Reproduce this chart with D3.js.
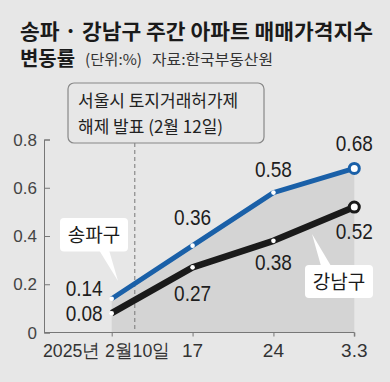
<!DOCTYPE html>
<html>
<head>
<meta charset="utf-8">
<script src="https://cdn.jsdelivr.net/npm/d3@7.9.0/dist/d3.min.js"></script>
<style>
  body { margin: 0; background: #e7e7e7; }
  svg { display: block; }
  .num { font-family: "Liberation Sans", Arial, sans-serif; }
  .kr { font-family: "Noto Sans CJK KR", "Noto Sans", sans-serif; }
</style>
</head>
<body>
<svg id="chart" width="390" height="382"></svg>
<script>
// data
const dates = ['2025년 2월10일', '17', '24', '3.3'];
const songpa = [0.14, 0.36, 0.58, 0.68];
const gangnam = [0.08, 0.27, 0.38, 0.52];
const yTicks = [0, 0.2, 0.4, 0.6, 0.8];

// label offsets (layout only)
const songpaLab = [[-9, -3, 'end'], [0, -21, 'middle'], [0, -16, 'middle'], [0, -17, 'middle']];
const gangnamLab = [[-9, 8, 'end'], [0, 34, 'middle'], [0, 29, 'middle'], [0, 32, 'middle']];

const blue = '#1a60a8';
const dark = '#1a1a1a';

const svg = d3.select('#chart');

const x = d3.scalePoint().domain(dates).range([111.7, 354.3]);
const y = d3.scaleLinear().domain([0, 0.8]).range([332.5, 139.5]);
const x0 = 44;

// title
svg.append('text').attr('class', 'kr')
    .attr('x', 20).attr('y', 39)
    .attr('font-size', 21).attr('font-weight', 'bold').attr('fill', '#1a1a1a')
    .attr('textLength', 353).attr('lengthAdjust', 'spacingAndGlyphs')
    .text('송파 · 강남구 주간 아파트 매매가격지수');
svg.append('text').attr('class', 'kr')
    .attr('x', 20).attr('y', 66)
    .attr('font-size', 20).attr('font-weight', 'bold').attr('fill', '#1a1a1a')
    .attr('textLength', 55).attr('lengthAdjust', 'spacingAndGlyphs')
    .text('변동률');
svg.append('text').attr('class', 'kr')
    .attr('x', 85).attr('y', 65)
    .attr('font-size', 15).attr('fill', '#333')
    .attr('textLength', 57).attr('lengthAdjust', 'spacingAndGlyphs')
    .text('(단위:%)');
svg.append('text').attr('class', 'kr')
    .attr('x', 152).attr('y', 65)
    .attr('font-size', 15).attr('fill', '#333')
    .attr('textLength', 121).attr('lengthAdjust', 'spacingAndGlyphs')
    .text('자료:한국부동산원');

// shaded area under the songpa line
const area = d3.area()
    .x((d, i) => x(dates[i]))
    .y0(y(0))
    .y1(d => y(d));
svg.append('path').datum(songpa)
    .attr('d', area)
    .attr('fill', '#d4d4d4');

// axes
const yAxis = d3.axisRight(y).tickValues(yTicks).tickSize(6).tickFormat('');
svg.append('g').attr('transform', `translate(${x0},0)`).call(yAxis)
    .call(g => g.select('.domain').attr('stroke', '#777'))
    .call(g => g.selectAll('.tick line').attr('stroke', '#777'));

svg.append('g').selectAll('text').data(yTicks).join('text')
    .attr('class', 'num')
    .attr('x', 37).attr('y', d => y(d) + 6)
    .attr('text-anchor', 'end')
    .attr('font-size', 17).attr('fill', '#444')
    .text(d => d === 0 ? '0' : d.toFixed(1));

const xAxis = d3.axisBottom(x).tickSize(4).tickFormat('');
svg.append('g').attr('transform', `translate(0,${y(0)})`).call(xAxis)
    .call(g => g.select('.domain').attr('d', `M${x0},0H${x(dates[3])}V4`).attr('stroke', '#777'))
    .call(g => g.selectAll('.tick line').attr('stroke', '#777'));

svg.append('g').selectAll('text').data(dates).join('text')
    .attr('class', 'num')
    .attr('x', (d, i) => i === 0 ? 43 : x(d))
    .attr('y', 357)
    .attr('text-anchor', (d, i) => i === 0 ? 'start' : 'middle')
    .attr('font-size', 19).attr('fill', '#333')
    .each(function (d, i) {
        if (i === 0) d3.select(this).attr('textLength', 127).attr('lengthAdjust', 'spacingAndGlyphs');
    })
    .text(d => d);

// announcement marker (Feb 12)
const xFeb12 = x(dates[0]) + (x(dates[1]) - x(dates[0])) * 2 / 7;
svg.append('line')
    .attr('x1', xFeb12).attr('x2', xFeb12)
    .attr('y1', 143).attr('y2', y(0))
    .attr('stroke', '#777').attr('stroke-dasharray', '4,3');
svg.append('rect')
    .attr('x', 68).attr('y', 83).attr('width', 196).attr('height', 60)
    .attr('rx', 6).attr('fill', '#e7e7e7').attr('stroke', '#888').attr('stroke-width', 1.2);
svg.append('text').attr('class', 'kr')
    .attr('x', 78).attr('y', 107)
    .attr('font-size', 17).attr('fill', '#222')
    .text('서울시 토지거래허가제');
svg.append('text').attr('class', 'kr')
    .attr('x', 78).attr('y', 133)
    .attr('font-size', 17).attr('fill', '#222')
    .text('해제 발표 (2월 12일)');

// lines
const line = d3.line().x((d, i) => x(dates[i])).y(d => y(d));

function drawSeries(vals, color, width, labs) {
    svg.append('path').datum(vals)
        .attr('d', line)
        .attr('fill', 'none')
        .attr('stroke', color)
        .attr('stroke-width', width)
        .attr('stroke-linejoin', 'round');
    svg.append('g').selectAll('circle').data(vals).join('circle')
        .attr('cx', (d, i) => x(dates[i]))
        .attr('cy', d => y(d))
        .attr('r', (d, i) => i === vals.length - 1 ? 5 : 2.3)
        .attr('fill', '#fff')
        .attr('stroke', (d, i) => i === vals.length - 1 ? color : 'none')
        .attr('stroke-width', 3);
    svg.append('g').selectAll('text').data(vals).join('text')
        .attr('class', 'num')
        .attr('x', (d, i) => x(dates[i]) + labs[i][0])
        .attr('y', (d, i) => y(d) + labs[i][1])
        .attr('text-anchor', labs[0][2] === 'end' ? null : 'middle')
        .attr('text-anchor', (d, i) => labs[i][2])
        .attr('font-size', 22).attr('fill', '#1e1e1e')
        .attr('textLength', 37).attr('lengthAdjust', 'spacingAndGlyphs')
        .text(d => d.toFixed(2));
}

drawSeries(songpa, blue, 5, songpaLab);
drawSeries(gangnam, dark, 6.5, gangnamLab);

// series name callouts
function callout(name, bx, by, bw, bh, tail) {
    svg.append('path')
        .attr('d', d3.line()(tail) + 'Z')
        .attr('fill', '#fff');
    svg.append('rect')
        .attr('x', bx).attr('y', by).attr('width', bw).attr('height', bh)
        .attr('rx', 4).attr('fill', '#fff');
    svg.append('text').attr('class', 'kr')
        .attr('x', bx + bw / 2).attr('y', by + bh / 2 + 7)
        .attr('text-anchor', 'middle')
        .attr('font-size', 19).attr('fill', '#1a1a1a')
        .text(name);
}
callout('송파구', 60, 218, 68, 33.5, [[99, 250], [109, 250], [118, 281]]);
callout('강남구', 305, 265, 68, 33, [[321, 266], [331, 266], [312, 234]]);
</script>
</body>
</html>
